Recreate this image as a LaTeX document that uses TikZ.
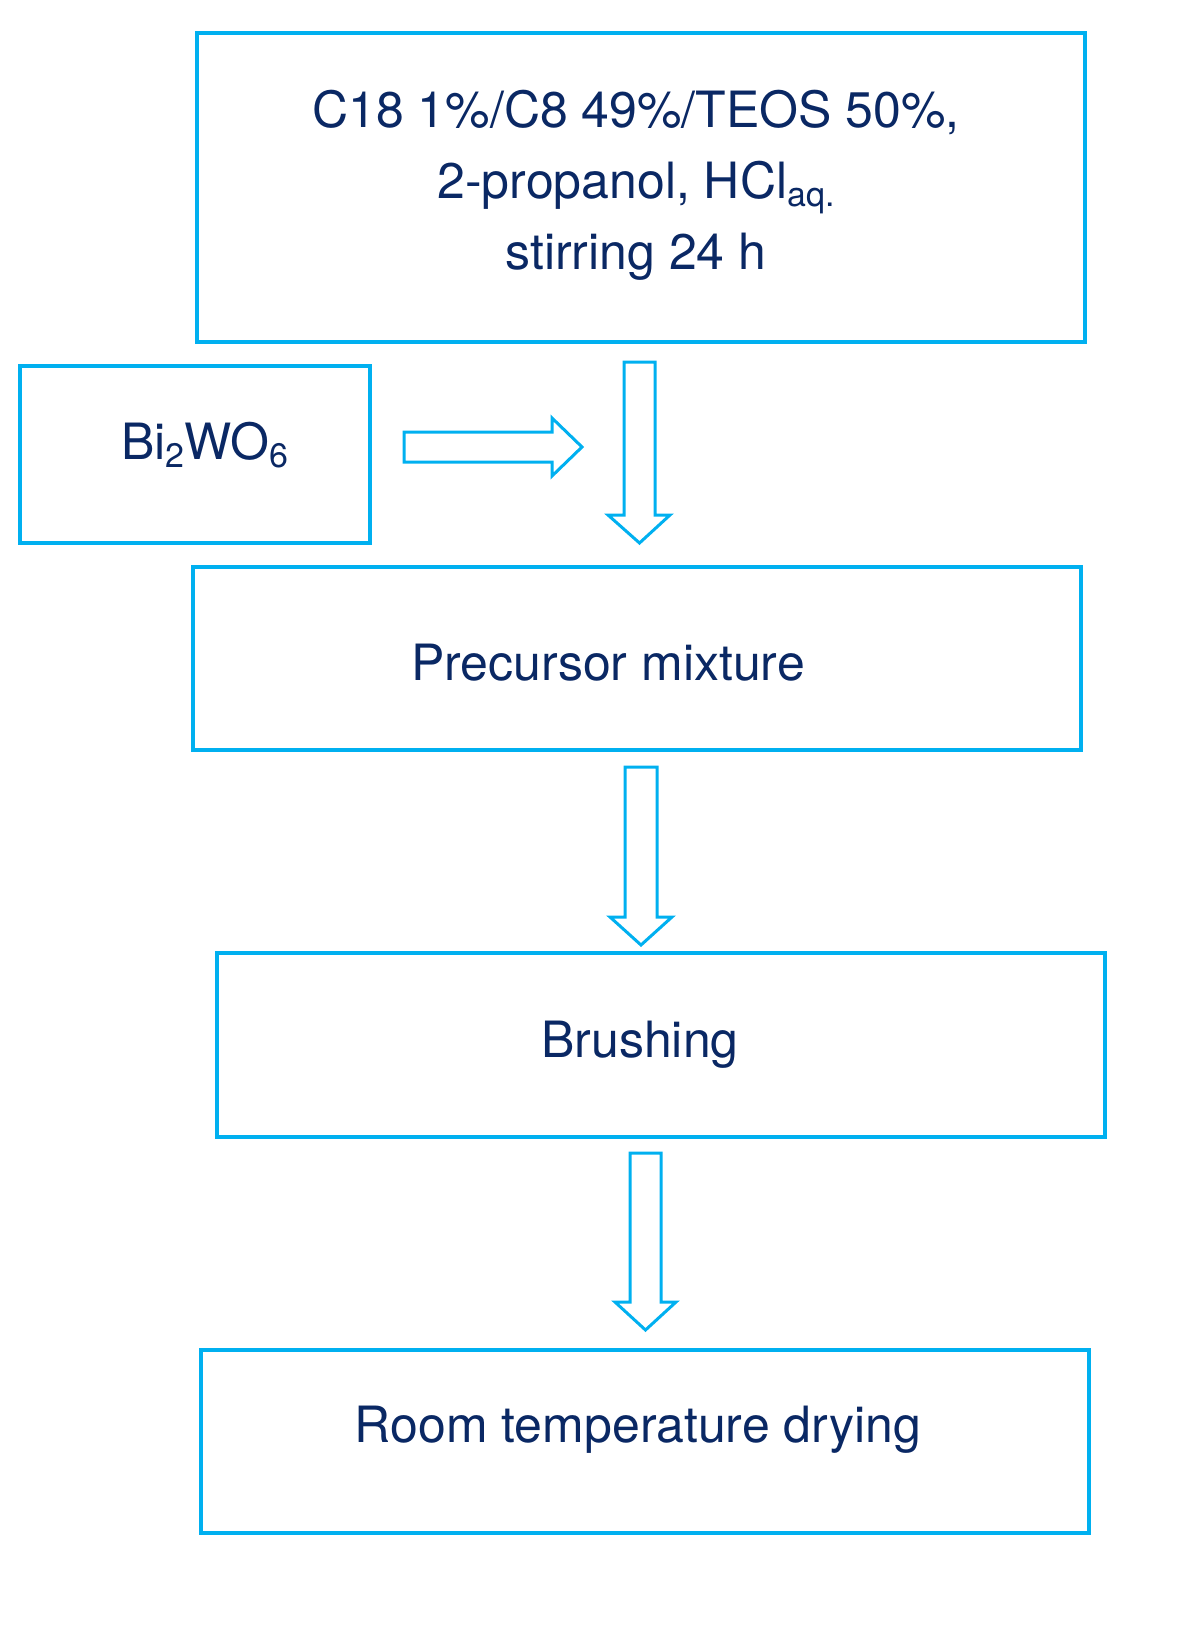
\documentclass[tikz,border=0pt]{standalone}
\usepackage{fontspec}
\setmainfont{TeX Gyre Heros}
\definecolor{bx}{RGB}{0,176,240}
\definecolor{tx}{RGB}{10,40,100}
\newcommand{\mysub}[1]{\raisebox{-0.3ex}{\fontsize{34}{40}\selectfont #1}}
\begin{document}
\begin{tikzpicture}[x=1pt,y=-1pt,
  box/.style={draw=bx,line width=3.5pt,inner sep=0pt},
  arr/.style={draw=bx,line width=3pt,line join=miter},
  lab/.style={text=tx,font=\fontsize{50}{71}\selectfont,align=center}]
\useasboundingbox (0,0) rectangle (1176,1647);
\draw[box] (197,33) rectangle (1085,342);
\draw[box] (20,366) rectangle (370,543);
\draw[box] (193,567) rectangle (1081,750);
\draw[box] (217,953) rectangle (1105,1137);
\draw[box] (201,1350) rectangle (1089,1533);
\node[lab] (top) at (636,185) {C18 1\%/C8 49\%/TEOS 50\%,\\2-propanol, HCl\mysub{aq.}\\stirring 24 h};
\node[lab] (bi) at (205,445) {Bi\mysub{2}WO\mysub{6}};
\node[lab] (pre) at (608,663) {Precursor mixture};
\node[lab] (bru) at (640,1045) {Brushing};
\node[lab] (room) at (638,1430) {Room temperature drying};
% vertical arrows
\draw[arr] (624,362)--(655,362)--(655,515)--(670,515)--(639.5,543)--(608,515)--(624,515)--cycle;
\draw[arr] (625,767)--(657,767)--(657,917)--(672,917)--(641,945)--(610,917)--(625,917)--cycle;
\draw[arr] (630,1153)--(661,1153)--(661,1302)--(676,1302)--(645.5,1330)--(615,1302)--(630,1302)--cycle;
% horizontal arrow
\draw[arr] (404,432)--(552,432)--(552,418)--(582,447)--(552,476)--(552,462)--(404,462)--cycle;
\end{tikzpicture}
\end{document}
